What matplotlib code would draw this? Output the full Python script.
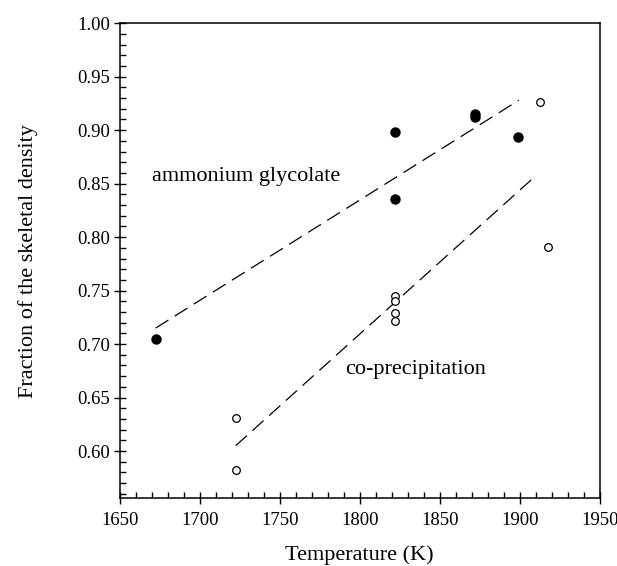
import numpy as np
import matplotlib
matplotlib.use("Agg")
import matplotlib.pyplot as plt
from matplotlib.ticker import MultipleLocator, FormatStrFormatter

plt.rcParams["font.family"] = ["Liberation Serif", "DejaVu Serif"]

# ammonium glycolate (filled)
t_ag = [1672.5, 1822, 1822, 1872, 1872, 1899]
rho_ag = [0.705, 0.898, 0.836, 0.915, 0.912, 0.894]
# co-precipitation (open)
t_cp = [1722.5, 1722.5, 1822, 1822, 1822, 1822, 1912.5, 1917.5]
rho_cp = [0.631, 0.582, 0.745, 0.740, 0.729, 0.722, 0.926, 0.791]

# dashed trend lines (end points)
fit_ag_t = [1672.5, 1899.5]
fit_ag_rho = [0.715, 0.928]
fit_cp_t = [1722.5, 1909]
fit_cp_rho = [0.605, 0.856]

fig = plt.figure(figsize=(6.17, 5.66), dpi=100)
ax = fig.add_axes([0.194, 0.120, 0.778, 0.839])

dash = (0, (12, 6))
ax.plot(fit_ag_t, fit_ag_rho, color="black", lw=0.9, linestyle=dash)
ax.plot(fit_cp_t, fit_cp_rho, color="black", lw=0.9, linestyle=dash)

ax.plot(t_ag, rho_ag, "o", color="black", ms=6.5, zorder=3)
ax.plot(t_cp, rho_cp, "o", mfc="white", mec="black", mew=0.9, ms=5.5, zorder=3)

ax.text(1670, 0.857, "ammonium glycolate", fontsize=16, va="center", ha="left")
ax.text(1791, 0.676, "co-precipitation", fontsize=16, va="center", ha="left")

ax.set_xlim(1650, 1950)
ax.set_ylim(0.556, 1.00)
ax.xaxis.set_major_locator(MultipleLocator(50))
ax.xaxis.set_minor_locator(MultipleLocator(10))
ax.yaxis.set_major_locator(MultipleLocator(0.05))
ax.yaxis.set_minor_locator(MultipleLocator(0.01))
ax.yaxis.set_major_formatter(FormatStrFormatter("%.2f"))

ax.tick_params(which="major", direction="inout", length=8, width=1, labelsize=13.5, pad=6)
ax.tick_params(which="minor", direction="in", length=4, width=1)
ax.tick_params(axis="y", which="major", pad=3)
for s in ax.spines.values():
    s.set_linewidth(1.1)

ax.set_xlabel("Temperature (K)", fontsize=16, labelpad=12)
ax.set_ylabel("Fraction of the skeletal density", fontsize=16, labelpad=28)

fig.savefig("out.png", dpi=100)
